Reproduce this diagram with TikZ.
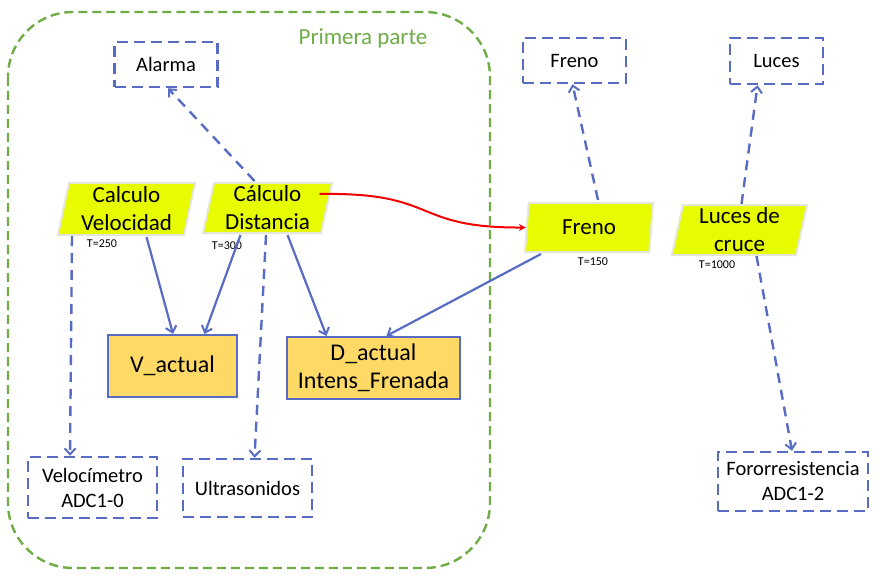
\documentclass[tikz,border=0pt]{standalone}
\usepackage{fontspec}
\setmainfont{Carlito}
\usetikzlibrary{arrows.meta,shapes.geometric,calc}
\definecolor{bl}{RGB}{88,108,196}
\definecolor{gr}{RGB}{112,173,71}
\definecolor{yl}{RGB}{232,252,0}
\definecolor{og}{RGB}{255,217,102}
\definecolor{pb}{RGB}{228,230,215}
\definecolor{rd}{RGB}{240,0,0}
\begin{document}
\begin{tikzpicture}[x=1pt,y=-1pt,
  dbox/.style={draw=bl,line width=2.5pt,dash pattern=on 11pt off 6pt,align=center,inner sep=0pt,font=\fontsize{20.5}{25}\selectfont},
  sbox/.style={draw=bl,fill=og,line width=2.2pt,align=center,inner sep=0pt,font=\fontsize{24}{28}\selectfont},
  task/.style={trapezium,trapezium left angle=76,trapezium right angle=104,trapezium stretches body,fill=yl,draw=pb,line width=2pt,align=center,inner sep=0pt,font=\fontsize{23}{28}\selectfont},
  tip/.style={-{Straight Barb[length=6pt,width=11pt,line width=2pt]}},
  dline/.style={draw=bl,line width=2.4pt,dash pattern=on 10pt off 7pt,tip},
  sline/.style={draw=bl,line width=2.2pt,tip},
  tlab/.style={font=\fontsize{12}{12}\selectfont,inner sep=0pt}]
\useasboundingbox (0,0) rectangle (880,580);
\fill[white] (0,0) rectangle (880,580);
\draw[gr,line width=2.4pt,dash pattern=on 9pt off 5pt,rounded corners=65pt] (8,12) rectangle (490,568);
\node[font=\fontsize{23}{23}\selectfont,text=gr,inner sep=0pt] (pp) at (363,38) {Primera parte};
% dashed boxes
\node[dbox,minimum width=103,minimum height=45] (al) at (166,64.5) {Alarma};
\node[dbox,minimum width=103,minimum height=45] (fr) at (574.5,60.5) {Freno};
\node[dbox,minimum width=93,minimum height=46] (lu) at (776.5,61) {Luces};
\node[dbox,minimum width=129,minimum height=61] (ve) at (92.5,487.5) {Velocímetro\\ADC1-0};
\node[dbox,minimum width=129,minimum height=58] (ul) at (247.5,488) {Ultrasonidos};
\node[dbox,minimum width=150,minimum height=59] (fo) at (793,481.5) {Fororresistencia\\ADC1-2};
% data boxes
\node[sbox,minimum width=129,minimum height=62] (va) at (172.5,366) {V\_actual};
\node[sbox,minimum width=173,minimum height=62] (da) at (373.5,368) {D\_actual\\Intens\_Frenada};
% tasks
\node[task,minimum width=137,minimum height=52] (cv) at (126.5,209) {Calculo\\Velocidad};
\node[task,minimum width=129,minimum height=50] (cd) at (267.5,208) {Cálculo\\Distancia};
\node[task,minimum width=128,minimum height=49] (fz) at (589,227.5) {Freno};
\node[task,minimum width=135,minimum height=50] (lc) at (739.5,230) {Luces de\\cruce};
\node[tlab] (t1) at (102,244) {T=250};
\node[tlab] (t2) at (227,246) {T=300};
\node[tlab] (t3) at (593,262) {T=150};
\node[tlab] (t4) at (717,265) {T=1000};
% connectors
\draw[dline] ($(cd.north)+(-13,-1)$) -- ($(al.south)+(2,0)$);
\draw[dline] ($(cv.south)+(-54.5,0)$) -- ($(ve.north)+(-22.5,0)$);
\draw[sline] ($(cv.south)+(20,1)$) -- ($(va.north)+(0.5,0)$);
\draw[sline] ($(cd.south)+(-27,1)$) -- ($(va.north)+(32,0)$);
\draw[dline] ($(cd.south)+(-1.5,1)$) -- ($(ul.north)+(7,0)$);
\draw[sline] ($(cd.south)+(20,1)$) -- ($(da.north)+(-47,0)$);
\draw[sline] ($(fz.south)+(-48,1)$) -- ($(da.north)+(13,0)$);
\draw[dline] ($(fz.north)+(9,-2)$) -- ($(fr.south)+(-2,0)$);
\draw[dline] ($(lc.north)+(2,0)$) -- ($(lu.south)+(-19,0)$);
\draw[dline] ($(lc.south)+(17,0)$) -- ($(fo.north)+(-1,0)$);
\draw[rd,line width=2pt,-{Stealth[length=7pt,width=7pt]}] ($(cd.center)+(52,-14)$) .. controls (440,192) and (410,228) .. (fz.west);
\end{tikzpicture}
\end{document}
